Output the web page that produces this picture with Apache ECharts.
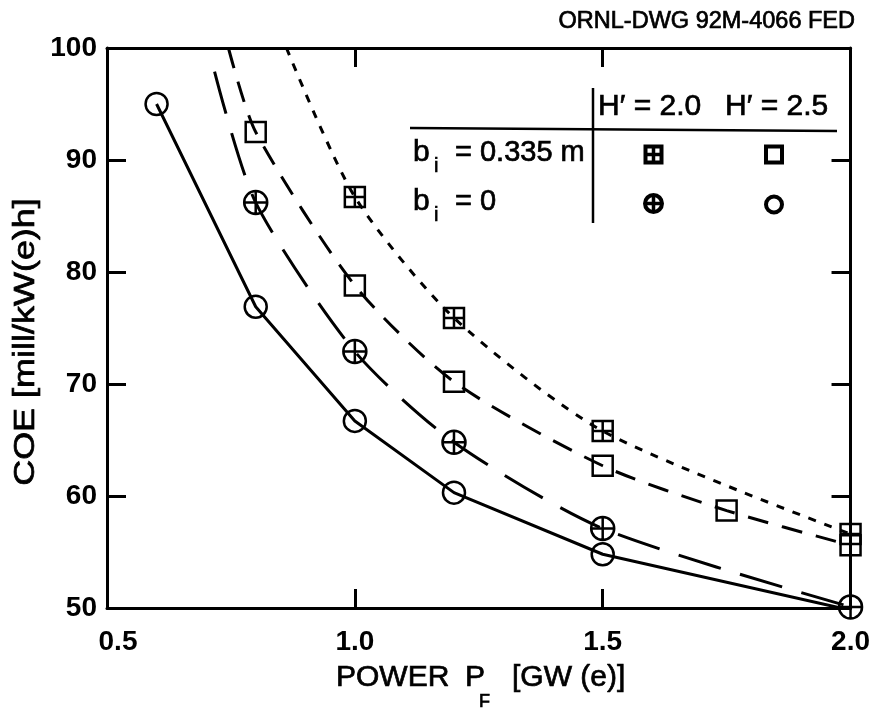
<!DOCTYPE html>
<html>
<head>
<meta charset="utf-8">
<script src="https://cdn.jsdelivr.net/npm/echarts@6/dist/echarts.min.js"></script>
<style>
	html, body { margin: 0; padding: 0; background: #fff; }
	#chart-box { width: 873px; height: 710px; }
</style>
</head>
<body>
<div id="chart-box"></div>
<script>
var xTicks = [0.5, 1.0, 1.5, 2.0];
var yTicks = [50, 60, 70, 80, 90, 100];

// b_i = 0, H' = 2.5 (open circle, solid)
var xCircle = [0.6, 0.8, 1.0, 1.2, 1.5, 2.0];
var yCircle = [95.0, 76.9, 66.7, 60.3, 54.8, 49.8];

// b_i = 0, H' = 2.0 (crossed circle, long dash)
var xCrossCircle = [0.8, 1.0, 1.2, 1.5, 2.0];
var yCrossCircle = [86.2, 72.9, 64.8, 57.1, 50.1];

// b_i = 0.335 m, H' = 2.5 (open square, dash)
var xSquare = [0.8, 1.0, 1.2, 1.5, 1.75, 2.0];
var ySquare = [92.5, 78.8, 70.2, 62.7, 58.7, 55.6];

// b_i = 0.335 m, H' = 2.0 (crossed square, dotted)
var xCrossSquare = [1.0, 1.2, 1.5, 2.0];
var yCrossSquare = [86.7, 75.9, 65.8, 56.6];

// where the faired curves come in from the top (no marker)
var startCrossCircle = [0.717, 97.9];
var startSquare = [0.745, 100];
var startCrossSquare = [0.862, 100];

var crossSquarePath = "path://M0,0H20V20H0Z M10,0V20 M0,10H20";
var crossCirclePath = "path://M0,10A10,10 0 1,1 20,10A10,10 0 1,1 0,10Z M10,0V20 M0,10H20";

function points(xs, ys, start) {
	var data = [];
	if (start) {
		data.push({ value: start, symbol: "none" });
	}
	for (var i = 0; i < xs.length; i++) {
		data.push([xs[i], ys[i]]);
	}
	return data;
}

var textFont = '"Liberation Sans", Arial, sans-serif';

// lettering: regular Helvetica, thickened a little like the print
function text(str, x, y, size, opts) {
	opts = opts || {};
	return {
		type: "text",
		x: x,
		y: y,
		rotation: opts.rotation || 0,
		scaleX: opts.scaleX || 1,
		style: {
			text: str,
			font: size + "px " + textFont,
			fill: "#000",
			stroke: "#000",
			lineWidth: 0.7,
			textAlign: opts.align || "left",
			textVerticalAlign: "middle"
		}
	};
}

var chart = echarts.init(document.getElementById("chart-box"));

var axisLine = { show: true, lineStyle: { color: "#000", width: 3 } };
var tickStyle = { show: true, inside: true, length: 19, lineStyle: { color: "#000", width: 3 } };
var tickLabel = {
	color: "#000",
	fontFamily: textFont,
	fontWeight: "bold",
	fontSize: 28
};

var option = {
	backgroundColor: "#fff",
	animation: false,
	grid: {
		left: 107,
		right: 20,
		top: 48,
		bottom: 102
	},
	xAxis: [
		{
			type: "value",
			min: 0.5,
			max: 2.0,
			interval: 0.5,
			axisLine: axisLine,
			axisTick: tickStyle,
			splitLine: { show: false },
			axisLabel: Object.assign({
				margin: 20,
				formatter: function (v) {
					// first label sits a little right of the corner in the drawing
					return v === xTicks[0] ? "{first|" + v.toFixed(1) + "}" : v.toFixed(1);
				},
				rich: {
					first: {
						fontFamily: textFont,
						fontWeight: "bold",
						fontSize: 28,
						color: "#000",
						padding: [0, 0, 0, 22]
					}
				}
			}, tickLabel)
		},
		{
			type: "value",
			position: "top",
			min: 0.5,
			max: 2.0,
			interval: 0.5,
			axisLine: axisLine,
			axisTick: tickStyle,
			splitLine: { show: false },
			axisLabel: { show: false }
		}
	],
	yAxis: [
		{
			type: "value",
			min: 50,
			max: 100,
			interval: 10,
			axisLine: axisLine,
			axisTick: tickStyle,
			splitLine: { show: false },
			axisLabel: Object.assign({ margin: 10 }, tickLabel)
		},
		{
			type: "value",
			position: "right",
			min: 50,
			max: 100,
			interval: 10,
			axisLine: axisLine,
			axisTick: tickStyle,
			splitLine: { show: false },
			axisLabel: { show: false }
		}
	],
	series: [
		{
			name: "bi=0, H'=2.5",
			type: "line",
			data: points(xCircle, yCircle),
			symbol: "circle",
			symbolSize: 22,
			lineStyle: { color: "#000", width: 3 },
			itemStyle: { color: "rgba(0,0,0,0)", borderColor: "#000", borderWidth: 2.5 }
		},
		{
			name: "bi=0, H'=2.0",
			type: "line",
			data: points(xCrossCircle, yCrossCircle, startCrossCircle),
			smooth: 0.25,
			symbol: crossCirclePath,
			symbolSize: 23,
			lineStyle: { color: "#000", width: 3, type: [44, 20] },
			itemStyle: { color: "rgba(0,0,0,0)", borderColor: "#000", borderWidth: 2.5 }
		},
		{
			name: "bi=0.335, H'=2.5",
			type: "line",
			data: points(xSquare, ySquare, startSquare),
			smooth: 0.25,
			symbol: "rect",
			symbolSize: 20,
			lineStyle: { color: "#000", width: 3, type: [21, 14] },
			itemStyle: { color: "rgba(0,0,0,0)", borderColor: "#000", borderWidth: 2.5 }
		},
		{
			name: "bi=0.335, H'=2.0",
			type: "line",
			data: points(xCrossSquare, yCrossSquare, startCrossSquare),
			smooth: 0.25,
			symbol: crossSquarePath,
			symbolSize: 20,
			lineStyle: { color: "#000", width: 3, type: [8, 9] },
			itemStyle: { color: "rgba(0,0,0,0)", borderColor: "#000", borderWidth: 2.5 }
		}
	],
	graphic: [
		text("ORNL-DWG 92M-4066 FED", 855, 22, 23.5, { align: "right" }),

		// axis titles
		text("COE [mill/kW(e)h]", 26, 342, 29, { align: "center", rotation: Math.PI / 2, scaleX: 1.24 }),
		text("POWER", 336, 678, 30),
		text("P", 465, 678, 30),
		text("F", 479, 702, 18),
		text("[GW (e)]", 512, 678, 30),

		// legend table
		{ type: "line", shape: { x1: 410, y1: 128, x2: 837, y2: 131 }, style: { stroke: "#000", lineWidth: 2.5 } },
		{ type: "line", shape: { x1: 593, y1: 88, x2: 593, y2: 223 }, style: { stroke: "#000", lineWidth: 2.5 } },
		text("H\u2032 = 2.0", 598, 107, 30),
		text("H\u2032 = 2.5", 725, 107, 30),
		text("b", 413, 153, 30),
		text("i", 434, 166, 20),
		text("= 0.335 m", 455, 153, 29),
		text("b", 413, 202, 30),
		text("i", 434, 215, 20),
		text("= 0", 455, 202, 29),

		// legend symbols
		{ type: "rect", shape: { x: 645.5, y: 146.5, width: 16, height: 16 }, style: { fill: "none", stroke: "#000", lineWidth: 4 } },
		{ type: "line", shape: { x1: 653.5, y1: 146.5, x2: 653.5, y2: 162.5 }, style: { stroke: "#000", lineWidth: 3.5 } },
		{ type: "line", shape: { x1: 645.5, y1: 154.5, x2: 661.5, y2: 154.5 }, style: { stroke: "#000", lineWidth: 3.5 } },
		{ type: "rect", shape: { x: 766, y: 146.5, width: 16, height: 16 }, style: { fill: "none", stroke: "#000", lineWidth: 4 } },
		{ type: "circle", shape: { cx: 653.5, cy: 203.5, r: 8.5 }, style: { fill: "none", stroke: "#000", lineWidth: 4 } },
		{ type: "line", shape: { x1: 653.5, y1: 195, x2: 653.5, y2: 212 }, style: { stroke: "#000", lineWidth: 3.5 } },
		{ type: "line", shape: { x1: 645, y1: 203.5, x2: 662, y2: 203.5 }, style: { stroke: "#000", lineWidth: 3.5 } },
		{ type: "circle", shape: { cx: 774, cy: 204.5, r: 8 }, style: { fill: "none", stroke: "#000", lineWidth: 4 } }
	]
};

chart.setOption(option);
</script>
</body>
</html>
